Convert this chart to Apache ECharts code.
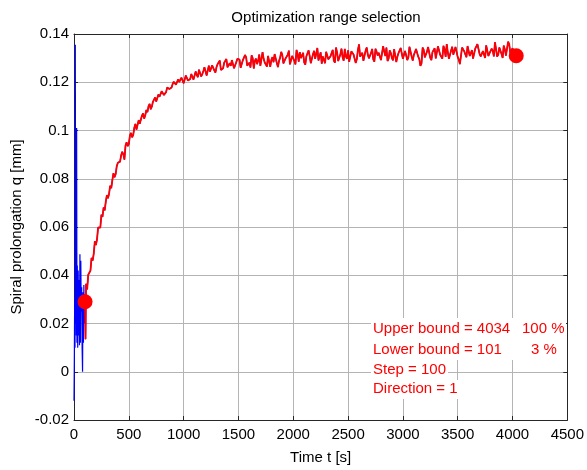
<!DOCTYPE html>
<html>
<head>
<meta charset="utf-8">
<script src="https://cdn.jsdelivr.net/npm/echarts@6/dist/echarts.min.js"></script>
<style>
html,body{margin:0;padding:0;background:#fff;}
#chart{width:587px;height:470px;}
</style>
</head>
<body>
<div id="chart"></div>
<script>
// ---- data ----
const titleText = 'Optimization range selection';
const xName = 'Time t [s]';
const yName = 'Spiral prolongation q [mm]';

// transient part before the lower bound (blue only)
const earlyT = [0,3,6,9,12,15,18,21,24,27,30,34,38,42,46,50,54,58,62,66,70,74,78,82,86,90,94,98];
const earlyQ = [-0.0120,0.0050,0.0300,0.0100,0.1355,0.0200,0.0900,0.0150,0.1010,0.0120,0.0440,0.0100,0.0420,0.0150,0.0380,0.0110,0.0487,0.0120,0.0460,0.0250,0.0350,0.0100,0.0000,0.0330,0.0120,0.0360,0.0200,0.0320];

// selected range (lower bound 101 .. upper bound 4034), samples A
const mainT = [101,105,110,120,130,140,150,160,170,180,190,200,210,220,230,240,250,260,270,280,290,300,
320,340,360,380,400,420,440,460,480,500,520,540,560,580,600,620,640,660,680,700,720,740,760,780,800,
820,840,860,880,900,920,940,960,980,1000,1020,1040,1060,1080,1100,1120,1140,1160,1180,1200,1220,1240,
1260,1280,1300,1320,1340,1360,1380,1400,1420,1440,1460,1480,1500,1520,1540,1560,1580,1600,1620,1640,
1660,1680,1700,1720,1740,1760,1780,1800,1820,1840,1860,1880,1900,1920,1940,1960,1980,2000,2020,2040,
2060,2080,2100,2120,2140,2160,2180,2200,2220,2240,2260,2280,2300,2320,2340,2360,2380,2400,2420,2440,
2460,2480,2500,2520,2540,2560,2580,2600,2620,2640,2660,2680,2700,2720,2740,2760,2780,2800,2820,2840,
2860,2880,2900,2920,2940,2960,2980,3000,3020,3040,3060,3080,3100,3120,3140,3160,3180,3200,3220,3240,
3260,3280,3300,3320,3340,3360,3380,3400,3420,3440,3460,3480,3500,3520,3540,3560,3580,3600,3620,3640,
3660,3680,3700,3720,3740,3760,3780,3800,3820,3840,3860,3880,3900,3920,3940,3960,3980,4000,4020,4034];
const mainQ = [0.0290,0.0135,0.0365,0.0341,0.0402,0.0395,0.0419,0.0472,0.0461,0.0489,0.0541,0.0525,0.0549,0.0598,0.0604,0.0597,0.0651,0.0642,0.0681,0.0669,0.0705,0.0732,
0.0738,0.0761,0.0823,0.0819,0.0866,0.0871,0.0912,0.0879,0.0951,0.0944,0.0990,0.0981,0.1027,0.1012,0.1028,0.1062,0.1049,0.1085,0.1101,0.1088,0.1119,0.1137,0.1118,0.1140,0.1163,
0.1147,0.1159,0.1185,0.1167,0.1193,0.1209,0.1186,0.1201,0.1219,0.1196,0.1228,0.1207,0.1213,0.1241,0.1219,0.1230,0.1252,0.1224,0.1247,0.1261,0.1236,0.1244,
0.1270,0.1249,0.1263,0.1282,0.1251,0.1258,0.1287,0.1262,0.1279,0.1292,0.1258,0.1283,0.1301,0.1260,0.1291,0.1313,0.1269,0.1281,0.1312,0.1257,
0.1298,0.1290,0.1268,0.1325,0.1282,0.1265,0.1307,0.1292,0.1283,0.1322,0.1263,0.1301,0.1314,0.1282,0.1294,0.1331,0.1277,0.1308,0.1274,0.1316,
0.1325,0.1292,0.1282,0.1308,0.1332,0.1279,0.1316,0.1297,0.1342,0.1288,0.1277,0.1313,0.1326,0.1295,0.1308,0.1334,0.1281,0.1323,0.1302,0.1339,
0.1289,0.1307,0.1332,0.1281,0.1322,0.1317,0.1296,0.1357,0.1302,0.1289,0.1331,0.1315,0.1299,0.1338,0.1285,0.1327,0.1322,0.1292,0.1350,0.1309,
0.1288,0.1332,0.1300,0.1337,0.1284,0.1321,0.1342,0.1297,0.1330,0.1292,0.1347,0.1307,0.1313,0.1338,0.1306,0.1268,0.1344,0.1303,0.1327,0.1352,
0.1292,0.1331,0.1299,0.1349,0.1314,0.1298,0.1337,0.1358,0.1297,0.1332,0.1314,0.1346,0.1305,0.1275,0.1344,0.1328,0.1304,0.1353,0.1313,0.1298,
0.1339,0.1358,0.1317,0.1304,0.1337,0.1353,0.1309,0.1328,0.1330,0.1366,0.1306,0.1344,0.1317,0.1352,0.1310,0.1368,0.1321,0.1341,0.1315,0.1310];

// selected range, samples B (in between samples A)
const midT = [310,330,350,370,390,410,430,450,470,490,510,530,550,570,590,610,630,650,670,690,710,730,750,770,790,
810,830,850,870,890,910,930,950,970,990,1010,1030,1050,1070,1090,1110,1130,1150,1170,1190,1210,1230,1250,1270,1290,
1310,1330,1350,1370,1390,1410,1430,1450,1470,1490,1510,1530,1550,1570,1590,1610,1630,1650,1670,1690,1710,1730,1750,
1770,1790,1810,1830,1850,1870,1890,1910,1930,1950,1970,1990,2010,2030,2050,2070,2090,2110,2130,2150,2170,2190,2210,
2230,2250,2270,2290,2310,2330,2350,2370,2390,2410,2430,2450,2470,2490,2510,2530,2550,2570,2590,2610,2630,2650,2670,
2690,2710,2730,2750,2770,2790,2810,2830,2850,2870,2890,2910,2930,2950,2970,2990,3010,3030,3050,3070,3090,3110,3130,
3150,3170,3190,3210,3230,3250,3270,3290,3310,3330,3350,3370,3390,3410,3430,3450,3470,3490,3510,3530,3550,3570,3590,
3610,3630,3650,3670,3690,3710,3730,3750,3770,3790,3810,3830,3850,3870,3890,3910,3930,3950,3970,3990,4010];
const midQ = [0.0719,0.0771,0.0795,0.0806,0.0852,0.0858,0.0897,0.0901,0.0938,0.0935,0.0979,0.0972,0.1011,0.1004,0.1043,0.1036,0.1071,0.1063,0.1076,0.1110,0.1099,0.1128,0.1120,0.1149,0.1135,
0.1166,0.1151,0.1178,0.1172,0.1178,0.1202,0.1190,0.1212,0.1199,0.1222,0.1202,0.1230,0.1206,0.1234,0.1211,0.1245,0.1221,0.1255,0.1233,0.1262,0.1228,0.1269,0.1241,0.1278,0.1240,
0.1275,0.1290,0.1248,0.1281,0.1296,0.1255,0.1268,0.1300,0.1262,0.1297,0.1294,0.1264,0.1288,0.1304,0.1275,0.1261,0.1300,0.1289,0.1275,0.1315,0.1269,0.1297,0.1286,
0.1309,0.1264,0.1304,0.1317,0.1280,0.1288,0.1326,0.1278,0.1299,0.1314,0.1274,0.1309,0.1289,0.1334,0.1285,0.1300,0.1322,0.1273,0.1315,0.1308,0.1282,0.1330,0.1297,
0.1290,0.1324,0.1307,0.1279,0.1330,0.1297,0.1321,0.1290,0.1344,0.1288,0.1316,0.1304,0.1338,0.1297,0.1285,0.1328,0.1315,0.1280,0.1334,0.1306,0.1322,0.1290,0.1344,
0.1299,0.1322,0.1295,0.1339,0.1311,0.1330,0.1286,0.1327,0.1344,0.1298,0.1321,0.1291,0.1333,0.1306,0.1318,0.1341,0.1296,0.1327,0.1303,0.1341,0.1290,0.1325,0.1337,
0.1296,0.1278,0.1334,0.1309,0.1346,0.1301,0.1325,0.1341,0.1295,0.1332,0.1314,0.1351,0.1305,0.1324,0.1299,0.1347,0.1311,0.1340,0.1294,0.1278,0.1343,0.1315,0.1350,
0.1309,0.1333,0.1303,0.1339,0.1354,0.1307,0.1329,0.1301,0.1348,0.1320,0.1339,0.1307,0.1368,0.1315,0.1347,0.1301,0.1337,0.1313,0.1358,0.1319,0.1344];

// bound markers
const boundT = [101, 4034];
const boundQ = [0.0290, 0.1310];

// axis ticks
const xMin = 0, xMax = 4500, xStep = 500;
const yMin = -0.02, yMax = 0.14, yStep = 0.02;

// annotation text
const infoRows = [
  ['Upper bound = 4034', '100 %'],
  ['Lower bound = 101', '3 %'],
  ['Step = 100', ''],
  ['Direction = 1', '']
];

// ---- chart ----
const FONT = 'Liberation Sans, Arial, Helvetica, sans-serif';
const FS = 15;
const redPts = mainT.map((t, i) => [t, mainQ[i]])
  .concat(midT.map((t, i) => [t, midQ[i]]))
  .sort((a, b) => a[0] - b[0]);
const bluePts = earlyT.map((t, i) => [t, earlyQ[i]]).concat(redPts);
const dotPts = boundT.map((t, i) => [t, boundQ[i]]);

const chart = echarts.init(document.getElementById('chart'), null, {renderer: 'canvas'});

const axisCommon = {
  type: 'value',
  axisLine: {show: true, onZero: false, lineStyle: {color: '#262626', width: 1}},
  axisTick: {show: true, inside: true, length: 4, lineStyle: {color: '#262626'}},
  axisLabel: {color: '#000', fontFamily: FONT, fontSize: FS},
};

const option = {
  animation: false,
  backgroundColor: '#ffffff',
  title: {
    text: titleText, left: 321, top: 5, textAlign: 'center',
    textStyle: {fontFamily: FONT, fontSize: FS, fontWeight: 'normal', color: '#000'}
  },
  grid: {left: 74, right: 15, top: 34, bottom: 45, containLabel: false},
  xAxis: [
    Object.assign({}, axisCommon, {
      min: xMin, max: xMax, interval: xStep, position: 'bottom',
      name: xName, nameLocation: 'middle', nameGap: 30,
      nameTextStyle: {fontFamily: FONT, fontSize: FS, color: '#000'},
      axisLabel: Object.assign({}, axisCommon.axisLabel, {margin: 7, formatter: v => String(v)}),
      splitLine: {show: true, lineStyle: {color: '#b4b4b4', width: 1}}
    }),
    Object.assign({}, axisCommon, {
      min: xMin, max: xMax, interval: xStep, position: 'top',
      axisLabel: {show: false}, splitLine: {show: false}
    })
  ],
  yAxis: [
    Object.assign({}, axisCommon, {
      min: yMin, max: yMax, interval: yStep, position: 'left',
      name: yName, nameLocation: 'middle', nameGap: 49,
      nameTextStyle: {fontFamily: FONT, fontSize: FS, color: '#000'},
      axisLabel: Object.assign({}, axisCommon.axisLabel, {margin: 5}),
      splitLine: {show: true, lineStyle: {color: '#b4b4b4', width: 1}}
    }),
    Object.assign({}, axisCommon, {
      min: yMin, max: yMax, interval: yStep, position: 'right',
      axisLabel: {show: false}, splitLine: {show: false}
    })
  ],
  series: [
    {
      type: 'line', data: bluePts, showSymbol: false, symbol: 'none',
      lineStyle: {color: '#0000ff', width: 1.2}, z: 2, silent: true
    },
    {
      type: 'line', data: redPts, showSymbol: false, symbol: 'none',
      lineStyle: {color: '#ff0000', width: 1.8}, z: 3, silent: true
    },
    {
      type: 'scatter', data: dotPts, symbol: 'circle', symbolSize: 15,
      itemStyle: {color: '#ff0000', opacity: 1}, z: 4, silent: true
    }
  ]
};
chart.setOption(option);

// annotation box (white background per row, red text)
const rowY = [329, 350, 370, 389];
const rightX = [522, 531];
const boxes = [
  {x: 371, y: 318, w: 195, h: 42},
  {x: 371, y: 360, w: 77, h: 20},
  {x: 371, y: 380, w: 88, h: 19}
];
const gfx = [];
boxes.forEach(b => gfx.push({
  type: 'rect', shape: {x: b.x, y: b.y, width: b.w, height: b.h},
  style: {fill: '#ffffff'}, z: 100, silent: true
}));
infoRows.forEach((r, i) => {
  gfx.push({type: 'text', x: 373, y: rowY[i], z: 101, silent: true,
    style: {text: r[0], fill: '#ff0000', font: FS + 'px ' + FONT, verticalAlign: 'middle', align: 'left'}});
  if (r[1]) {
    gfx.push({type: 'text', x: rightX[i], y: rowY[i], z: 101, silent: true,
      style: {text: r[1], fill: '#ff0000', font: FS + 'px ' + FONT, verticalAlign: 'middle', align: 'left'}});
  }
});
chart.setOption({graphic: {elements: gfx}});
</script>
</body>
</html>
